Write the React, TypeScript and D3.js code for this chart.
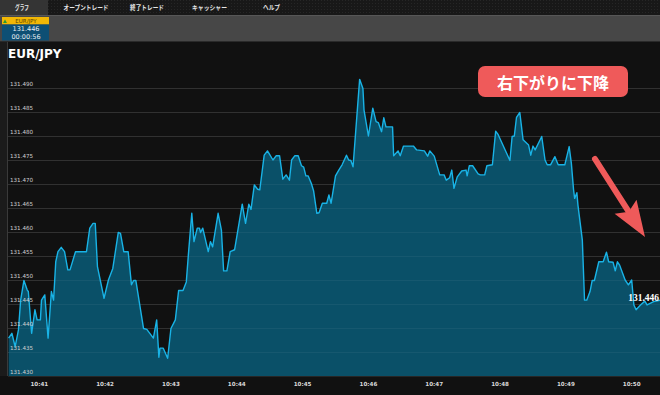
import * as d3 from "d3";

// seconds after 10:40:00
const times = [
  32, 35, 38, 41, 43, 46, 49, 50, 53, 56,
  58, 61, 62, 65, 68, 71, 73, 75, 77, 80,
  83, 86, 88, 93, 103, 106, 109, 111, 113, 119,
  123, 127, 132, 134, 137, 141, 144, 146, 148, 155,
  158, 164, 167, 169, 170, 173, 177, 180, 184, 187,
  191, 194, 196, 199, 201, 204, 206, 207, 209, 214,
  216, 218, 223, 226, 228, 231, 234, 238, 245, 248,
  251, 253, 256, 259, 261, 265, 268, 273, 276, 279,
  282, 285, 288, 290, 293, 296, 299, 301, 303, 305,
  308, 310, 313, 315, 318, 322, 324, 326, 330, 333,
  336, 340, 342, 344, 346, 352, 355, 356, 360, 364,
  367, 369, 372, 374, 376, 382, 383, 387, 389, 392,
  401, 404, 411, 414, 416, 420, 425, 429, 431, 434,
  436, 438, 441, 445, 449, 450, 452, 455, 460, 462,
  466, 468, 473, 476, 478, 489, 491, 493, 495, 498,
  501, 506, 508, 510, 512, 518, 521, 523, 526, 530,
  533, 539, 543, 545, 547, 548, 550, 551, 555, 557,
  559, 562, 564, 566, 570, 574, 577, 579, 583, 585,
  587, 589, 594, 597, 600, 602, 604, 608, 612, 614,
  620, 626,
];

const prices = [
  131.4379, 131.4389, 131.4361, 131.4396, 131.4458, 131.4499, 131.4479, 131.4476, 131.4389, 131.4438,
  131.4417, 131.4417, 131.4458, 131.4469, 131.4379, 131.4476, 131.4458, 131.4538, 131.4559, 131.4568,
  131.4559, 131.4521, 131.4521, 131.4559, 131.4559, 131.4608, 131.4618, 131.4618, 131.4528, 131.4462,
  131.45, 131.4524, 131.4599, 131.4597, 131.4559, 131.4559, 131.449, 131.4499, 131.4499, 131.4399,
  131.4397, 131.4379, 131.4417, 131.4339, 131.4358, 131.4358, 131.4337, 131.4399, 131.4417, 131.4478,
  131.4478, 131.4496, 131.4556, 131.4639, 131.458, 131.4608, 131.4608, 131.4599, 131.4608, 131.4559,
  131.458, 131.4569, 131.4639, 131.4604, 131.4519, 131.4519, 131.4559, 131.4563, 131.4658, 131.4618,
  131.4658, 131.4647, 131.4698, 131.4689, 131.4688, 131.476, 131.4769, 131.475, 131.4759, 131.4759,
  131.471, 131.4719, 131.4708, 131.475, 131.4759, 131.4759, 131.4738, 131.4735, 131.4717, 131.4717,
  131.4701, 131.4686, 131.4639, 131.464, 131.466, 131.466, 131.4677, 131.466, 131.4717, 131.4729,
  131.474, 131.476, 131.475, 131.4749, 131.4736, 131.4918, 131.4899, 131.4854, 131.48, 131.4858,
  131.483, 131.4828, 131.4809, 131.4838, 131.4819, 131.4819, 131.4759, 131.4769, 131.4759, 131.4779,
  131.4779, 131.4771, 131.4769, 131.4758, 131.4769, 131.4758, 131.4719, 131.4719, 131.4708, 131.4713,
  131.4729, 131.4691, 131.4715, 131.4727, 131.4729, 131.4717, 131.4738, 131.4738, 131.4721, 131.4719,
  131.4719, 131.4738, 131.474, 131.481, 131.4804, 131.4749, 131.4799, 131.48, 131.4839, 131.4849,
  131.4792, 131.4781, 131.476, 131.4779, 131.4771, 131.4799, 131.475, 131.474, 131.474, 131.4757,
  131.474, 131.474, 131.4778, 131.4743, 131.4688, 131.467, 131.4682, 131.4656, 131.4583, 131.4458,
  131.4458, 131.4476, 131.4499, 131.4499, 131.4538, 131.4538, 131.4558, 131.4538, 131.4537, 131.4519,
  131.4538, 131.4531, 131.45, 131.449, 131.45, 131.4448, 131.4438, 131.4448, 131.4456, 131.4448,
  131.4455, 131.4458,
];

const yTicks = [131.43, 131.435, 131.44, 131.445, 131.45, 131.455, 131.46, 131.465, 131.47, 131.475, 131.48, 131.485, 131.49];
const xTicks = [60, 120, 180, 240, 300, 360, 420, 480, 540, 600];
const menu = ["グラフ", "オープントレード", "終了トレード", "キャッシャー", "ヘルプ"];
const menuX = [22, 86, 147, 209.5, 271.5];
const menuW = [14, 45, 34, 35, 17];

export default function App() {
  const W = 660;
  const H = 395;
  const left = 8;
  const bottom = 376;

  const x = d3.scaleLinear().domain([60, 600]).range([39.3, 631.7]);
  const y = d3.scaleLinear().domain([131.43, 131.49]).range([bottom, 88]);

  const data = times.map((t, i) => ({ t, p: prices[i] }));

  const area = d3
    .area<{ t: number; p: number }>()
    .x((d) => x(d.t))
    .y0(bottom)
    .y1((d) => y(d.p));
  const line = d3
    .line<{ t: number; p: number }>()
    .x((d) => x(d.t))
    .y((d) => y(d.p));

  const last = data[data.length - 1];
  const fmt = (s: number) => `10:${String(40 + Math.floor(s / 60)).padStart(2, "0")}`;

  // arrow geometry
  const ax0 = 595, ay0 = 159, ax1 = 645, ay1 = 237;
  const len = Math.hypot(ax1 - ax0, ay1 - ay0);
  const ux = (ax1 - ax0) / len, uy = (ay1 - ay0) / len;
  const px = -uy, py = ux;
  const hl = 36, hw = 13;
  const bx = ax1 - ux * hl, by = ay1 - uy * hl;
  const nx = ax1 - ux * (hl - 6), ny = ay1 - uy * (hl - 6);

  return (
    <svg
      width={W}
      height={H}
      style={{ position: "fixed", left: 0, top: 0, display: "block" }}
    >
      <defs>
        <pattern id="dots" width="3" height="3" patternUnits="userSpaceOnUse">
          <rect width="3" height="3" fill="#181818" />
          <rect width="1" height="1" fill="#262626" />
        </pattern>
        <clipPath id="plot">
          <rect x={left} y={42} width={W - left} height={bottom - 42} />
        </clipPath>
      </defs>

      <rect width={W} height={H} fill="#111111" />

      {/* top menu */}
      <rect x={0} y={0} width={W} height={15} fill="url(#dots)" />
      <rect x={0} y={0} width={48} height={15} fill="#343434" />
      {menu.map((m, i) => (
        <text
          key={m}
          x={menuX[i] - menuW[i] / 2}
          y={7.3}
          fill="#e6e6e6"
          fontSize={6.5}
          fontWeight="bold"
          textLength={menuW[i]}
          lengthAdjust="spacingAndGlyphs"
          dominantBaseline="central"
          style={{ fontFamily: '"Noto Sans CJK JP"' }}
        >
          {m}
        </text>
      ))}

      {/* second bar */}
      <rect x={0} y={15} width={W} height={26} fill="#474747" />
      <line x1={0} x2={W} y1={15.5} y2={15.5} stroke="#575757" />
      <line x1={0} x2={W} y1={41.5} y2={41.5} stroke="#2a2a2a" />
      <rect x={2} y={17} width={47} height={7.5} fill="#f2b705" />
      <path d="M3,23 L5,19.5 L7,23 Z" fill="#2e9a2e" />
      <text x={26} y={21} fontSize={5.5} fill="#5a4200" textAnchor="middle" dominantBaseline="central" style={{ fontFamily: "DejaVu Sans" }}>
        EUR/JPY
      </text>
      <rect x={2} y={24.5} width={47} height={16} fill="#0d4f74" />
      <text x={26} y={29} fontSize={6.5} fill="#e8eef2" textAnchor="middle" dominantBaseline="central" style={{ fontFamily: "DejaVu Sans" }}>
        131.446
      </text>
      <text x={26} y={36.5} fontSize={6.5} fill="#e8eef2" textAnchor="middle" dominantBaseline="central" style={{ fontFamily: "DejaVu Sans" }}>
        00:00:56
      </text>

      {/* left strip */}
      <rect x={0} y={42} width={7} height={bottom - 42} fill="#1b1b1b" />
      <line x1={7.5} x2={7.5} y1={42} y2={bottom} stroke="#3a3a3a" />

      {/* title */}
      <text x={8} y={58} fill="#ffffff" fontSize={12} fontWeight="bold" style={{ fontFamily: "DejaVu Sans" }}>
        EUR/JPY
      </text>

      {/* grid */}
      {yTicks.map((v) => (
        <line key={v} x1={left} x2={W} y1={y(v) + 0.5} y2={y(v) + 0.5} stroke="#262626" />
      ))}

      <g clipPath="url(#plot)">
        <path d={area(data) ?? ""} fill="#0a5068" />
        {yTicks.map((v) => (
          <line key={v} x1={left} x2={W} y1={y(v) + 0.5} y2={y(v) + 0.5} stroke="rgba(255,255,255,0.05)" />
        ))}
        <path d={line(data) ?? ""} fill="none" stroke="#19b3e6" strokeWidth={1.4} strokeLinejoin="round" />
      </g>

      {/* y labels */}
      {yTicks.map((v) => (
        <text key={v} x={10} y={y(v) - 1.8} fill="#cfcfcf" fontSize={5.6} style={{ fontFamily: "DejaVu Sans" }}>
          {v.toFixed(3)}
        </text>
      ))}

      {/* x labels */}
      {xTicks.map((t) => (
        <text
          key={t}
          x={x(t)}
          y={386}
          fill="#d8d8d8"
          fontSize={5.6}
          fontWeight="bold"
          textAnchor="middle"
          style={{ fontFamily: "DejaVu Sans" }}
        >
          {fmt(t)}
        </text>
      ))}

      {/* last value label */}
      <text
        x={W - 1}
        y={y(last.p) + 0.5}
        fill="#ffffff"
        fontSize={9.5}
        fontWeight="bold"
        textAnchor="end"
        style={{ fontFamily: '"Liberation Serif"' }}
      >
        {last.p.toFixed(3)}
      </text>

      {/* callout */}
      <rect x={478} y={66} width={150} height={31} rx={7} fill="#ef5a5a" />
      <text
        x={553}
        y={82}
        fill="#ffffff"
        fontSize={16}
        fontWeight="bold"
        textAnchor="middle"
        dominantBaseline="central"
        style={{ fontFamily: '"Noto Sans CJK JP"' }}
      >
        右下がりに下降
      </text>

      {/* arrow */}
      <line x1={ax0} y1={ay0} x2={bx + ux * 4} y2={by + uy * 4} stroke="#ef5a5a" strokeWidth={6} strokeLinecap="round" />
      <path
        d={`M${ax1},${ay1} L${bx + px * hw},${by + py * hw} L${nx},${ny} L${bx - px * hw},${by - py * hw} Z`}
        fill="#ef5a5a"
      />
    </svg>
  );
}
